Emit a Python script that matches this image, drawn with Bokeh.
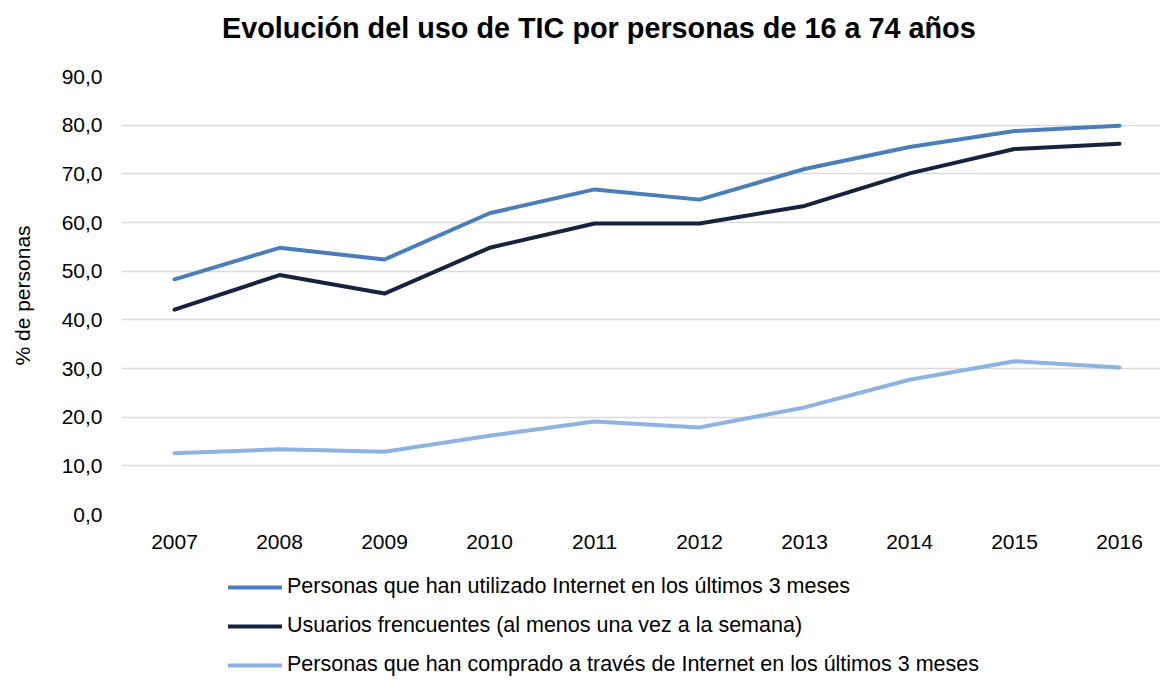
from bokeh.plotting import figure
from bokeh.layouts import column
from bokeh.models import Range1d, FixedTicker, Legend, LegendItem
from bokeh.embed import file_html
from bokeh.resources import INLINE

# ---- data ----
years = [2007, 2008, 2009, 2010, 2011, 2012, 2013, 2014, 2015, 2016]
internet_3m = [48.3, 54.8, 52.4, 61.9, 66.8, 64.7, 71.0, 75.5, 78.8, 79.9]
frecuentes = [42.1, 49.2, 45.4, 54.8, 59.8, 59.8, 63.4, 70.1, 75.1, 76.2]
compras_3m = [12.6, 13.4, 12.9, 16.2, 19.1, 17.9, 22.0, 27.7, 31.5, 30.2]
series_names = [
    "Personas que han utilizado Internet en los últimos 3 meses",
    "Usuarios frencuentes (al menos una vez a la semana)",
    "Personas que han comprado a través de Internet en los últimos 3 meses",
]
y_ticks = [0, 10, 20, 30, 40, 50, 60, 70, 80, 90]
y_tick_labels = ["0,0", "10,0", "20,0", "30,0", "40,0", "50,0", "60,0", "70,0", "80,0", "90,0"]
title_text = "Evolución del uso de TIC por personas de 16 a 74 años"
y_label = "% de personas"

colors = ["#4a7ebb", "#14243f", "#8db3e2"]
FONT = "Liberation Sans"
W = 1160


def strip(height):
    f = figure(
        width=W, height=height,
        output_backend="svg", toolbar_location=None,
        x_range=Range1d(0, 1), y_range=Range1d(0, 1),
        min_border_left=121, min_border_right=0, min_border_top=0, min_border_bottom=0,
    )
    f.axis.visible = False
    f.grid.visible = False
    f.outline_line_color = None
    return f


# ---- title strip ----
ts = strip(62)
tr = ts.line(years, internet_3m, line_alpha=0)
title_legend = Legend(items=[LegendItem(label=title_text, renderers=[tr])],
                      location=(101, 17), glyph_width=0, glyph_height=34, label_height=34,
                      label_standoff=0, padding=0, margin=0, spacing=0,
                      label_text_font=FONT, label_text_font_size="28.8px",
                      label_text_font_style="bold", label_text_color="#000000",
                      border_line_color=None, background_fill_alpha=0)
ts.add_layout(title_legend, "center")

# ---- main chart ----
p = figure(
    width=W, height=502,
    output_backend="svg", toolbar_location=None,
    x_range=Range1d(2006.495, 2016.390), y_range=Range1d(0, 90),
    min_border_left=121, min_border_right=0, min_border_top=14, min_border_bottom=50,
)
p.outline_line_color = None

p.xaxis.ticker = FixedTicker(ticks=years)
p.xaxis.axis_line_color = None
p.xaxis.major_tick_line_color = None
p.xaxis.minor_tick_line_color = None
p.xaxis.major_label_text_font = FONT
p.xaxis.major_label_text_font_size = "21px"
p.xaxis.major_label_text_color = "#000000"
p.xaxis.major_label_standoff = 14

p.yaxis.ticker = FixedTicker(ticks=y_ticks)
p.yaxis.major_label_overrides = {t_: l for t_, l in zip(y_ticks, y_tick_labels)}
p.yaxis.axis_line_color = None
p.yaxis.major_tick_line_color = None
p.yaxis.minor_tick_line_color = None
p.yaxis.major_label_text_font = FONT
p.yaxis.major_label_text_font_size = "21px"
p.yaxis.major_label_text_color = "#000000"
p.yaxis.major_label_standoff = 13
p.yaxis.axis_label = y_label
p.yaxis.axis_label_text_font = FONT
p.yaxis.axis_label_text_font_size = "21px"
p.yaxis.axis_label_text_font_style = "normal"
p.yaxis.axis_label_text_color = "#000000"
p.yaxis.axis_label_standoff = 25

p.xgrid.grid_line_color = None
p.ygrid.grid_line_color = "#d9d9d9"
p.ygrid.grid_line_width = 1.5

for vals, c in zip([internet_3m, frecuentes, compras_3m], colors):
    p.line(years, vals, line_color=c, line_width=4, line_join="round", line_cap="round")

# ---- legend strip below the chart (its lines lie outside its visible range) ----
lg = strip(113)
items = []
for vals, name, c in zip([internet_3m, frecuentes, compras_3m], series_names, colors):
    r = lg.line(years, vals, line_color=c, line_width=4, line_cap="round")
    items.append(LegendItem(label=name, renderers=[r]))

legend = Legend(items=items, location=(107, 0), orientation="vertical",
                glyph_width=54, glyph_height=24, label_height=24, spacing=14,
                label_standoff=5, padding=0, margin=0,
                label_text_font=FONT, label_text_font_size="21.5px", label_text_color="#000000",
                border_line_color=None, background_fill_alpha=0)
lg.add_layout(legend, "center")

layout = column(ts, p, lg, spacing=0)
open("out.html", "w").write(file_html(layout, INLINE))
